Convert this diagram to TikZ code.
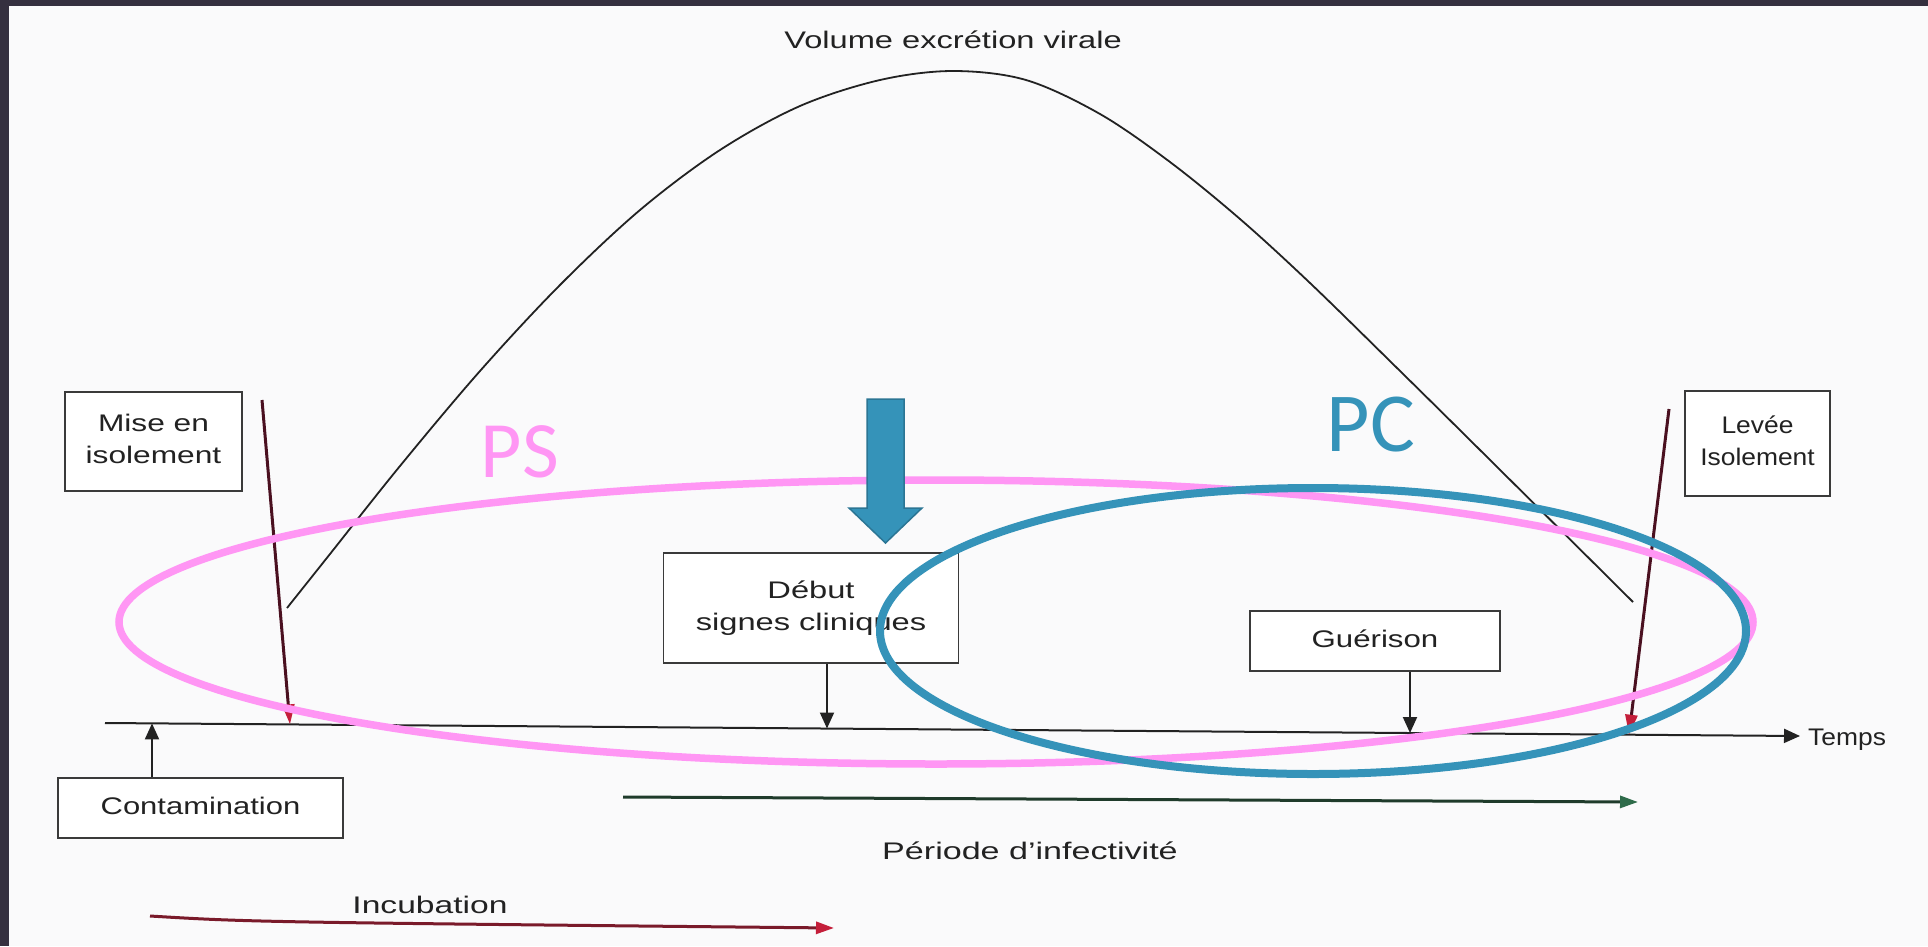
\documentclass[tikz,border=0pt]{standalone}
\usepackage{fontspec}
\usepackage{graphicx}
\setmainfont{Liberation Sans}
\newfontfamily\calfont{Carlito}
\usetikzlibrary{arrows.meta,calc}
\definecolor{bgc}{HTML}{FAFAFB}
\definecolor{band}{HTML}{35303F}
\definecolor{ink}{HTML}{222222}
\definecolor{boxline}{HTML}{3A3A3A}
\definecolor{pinkc}{HTML}{FF96F4}
\definecolor{bluec}{HTML}{3593B9}
\definecolor{blueedge}{HTML}{2B7594}
\definecolor{redhead}{HTML}{C41E3A}
\definecolor{maroon}{HTML}{4A1020}
\definecolor{darkred}{HTML}{7A1A2A}
\definecolor{dgreen}{HTML}{1F3B2B}
\definecolor{ghead}{HTML}{2E6B4A}
\newcommand\sx[2]{\scalebox{#1}[1]{\begin{tabular}{@{}c@{}}#2\end{tabular}}}
\tikzset{
  txt/.style={text=ink,font=\fontsize{24}{32}\selectfont,inner sep=0pt},
  box/.style={draw=boxline,line width=1.8pt,fill=white,text=ink,font=\fontsize{24}{32}\selectfont,inner sep=0pt},
  blk/.style={draw=ink,line width=2pt,-{Triangle[width=14pt,length=16pt]}},
  redarr/.style={draw=maroon,line width=3pt,-{Triangle[width=12pt,length=20pt,color=redhead]}},
  ring/.style={line width=7.5pt},
}
\begin{document}
\begin{tikzpicture}[x=1pt,y=-1pt]
\useasboundingbox (0,0) rectangle (1928,946);
\fill[bgc] (0,0) rectangle (1928,946);
\fill[band] (0,0) rectangle (1928,6);
\fill[band] (0,0) rectangle (9,946);
% title and curve
\node[txt] (title) at (953,42) {\sx{1.36}{Volume excrétion virale}};
\draw[ink,line width=1.8pt] plot[smooth,tension=0.55] coordinates {(287,608) (330,554) (400,466) (480,371) (560,285) (640,210) (720,150) (800,106) (880,80) (953,71) (1026,80) (1100,114) (1170,162) (1240,219) (1310,283) (1397,368) (1480,450) (1633,602)};
% axis
\coordinate (axL) at (105,723);
\coordinate (axR) at (1800,736);
\draw[blk] (axL) -- (axR);
\node[txt,anchor=west] (temps) at (1808,739) {\sx{1.1}{Temps}};
% boxes
\node[box,minimum width=177pt,minimum height=99pt] (mise) at (153.5,441.5) {\sx{1.32}{Mise en\\isolement}};
\node[box,minimum width=285pt,minimum height=60pt] (contam) at (200.5,808) {\sx{1.29}{Contamination}};
\node[box,minimum width=295pt,minimum height=110pt] (debut) at (811,608) {\sx{1.36}{Début\\signes cliniques}};
\node[box,minimum width=250pt,minimum height=60pt] (guer) at (1375,641) {\sx{1.3}{Guérison}};
\node[box,minimum width=145pt,minimum height=105pt] (levee) at (1757.5,443.5) {\sx{1.1}{Levée\\Isolement}};
% arrows to axis
\coordinate (c1) at (152,723.4);
\coordinate (d1) at (827,728.5);
\coordinate (g1) at (1410,733);
\coordinate (m0) at (262,400);
\coordinate (m1) at (290,724.4);
\coordinate (l0) at (1669,409);
\coordinate (l1) at (1629,734.7);
\draw[blk] (contam.north -| c1) -- (c1);
\draw[blk] (debut.south -| d1) -- (d1);
\draw[blk] (guer.south -| g1) -- (g1);
\draw[redarr] (m0) -- (m1);
\draw[redarr] (l0) -- (l1);
% periods
\coordinate (p0) at (623,797);
\coordinate (p1) at (1638,802);
\draw[dgreen,line width=3pt,-{Triangle[width=12pt,length=18pt,color=ghead]}] (p0) -- (p1);
\node[txt] (periode) at (1030,853) {\sx{1.42}{Période d'infectivité}};
\coordinate (i0) at (150,916);
\coordinate (i1) at (834,928);
\draw[darkred,line width=3pt,-{Triangle[width=12pt,length=18pt,color=redhead]}] (i0) .. controls (250,922) .. (i1);
\node[txt] (incub) at (430,907) {\sx{1.4}{Incubation}};
% overlays
\draw[pinkc,ring] (936,622) ellipse [x radius=817pt, y radius=142pt];
\draw[bluec,line width=8pt] (1313,631) ellipse [x radius=433pt, y radius=143pt];
\filldraw[fill=bluec,draw=blueedge,line width=1.5pt] (867,399) -- (904,399) -- (904,508) -- (922,508) -- (885.5,543) -- (849,508) -- (867,508) -- cycle;
\node[text=pinkc,font=\calfont\fontsize{80}{82}\selectfont,inner sep=0pt] (ps) at (520,452) {PS};
\node[text=bluec,font=\calfont\fontsize{84}{86}\selectfont,inner sep=0pt] (pc) at (1371,425) {PC};
\end{tikzpicture}
\end{document}
